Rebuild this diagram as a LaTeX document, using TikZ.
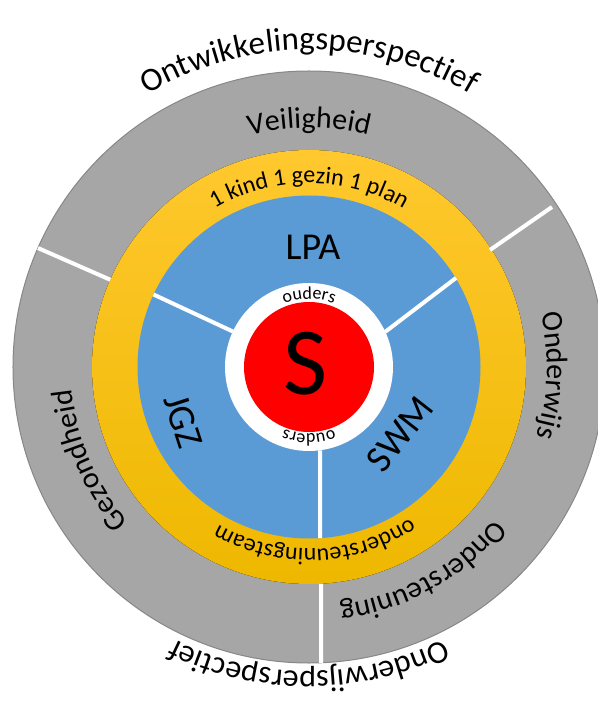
\documentclass[tikz,border=0pt]{standalone}
\usepackage{fontspec}
\setmainfont{Carlito}
\usepackage{tikz}
\usetikzlibrary{decorations.text}
\definecolor{ringgray}{RGB}{166,166,166}
\definecolor{ringedge}{RGB}{135,135,135}
\definecolor{yeltop}{RGB}{255,200,46}
\definecolor{yelbot}{RGB}{238,184,0}
\definecolor{lpablue}{RGB}{91,155,213}

\begin{document}
\begin{tikzpicture}[x=1pt, y=1pt,
  ringtext/.style args={#1/#2}{decorate, decoration={text along path, text align=center, text={|\fontsize{#1}{#1}\selectfont|#2}}},
  sector/.style={font=\fontsize{38}{38}\selectfont}]
\useasboundingbox (-309,-342) rectangle (288,367);
\filldraw[fill=ringgray, draw=ringedge, line width=1] (0,0) circle[radius=296];
\fill[top color=yeltop, bottom color=yelbot] (0,0) circle[radius=217];
\fill[lpablue] (0,0) circle[radius=171.5];
\fill[white] (0,0) circle[radius=84];
\fill[red] (0,0) circle[radius=65];
\draw[white, line width=4] (156.3:217) -- (156.3:296) (181,117) -- (243,160) (12,-216.7) -- (12,-295.8);
\draw[white, line width=4] (155:84) -- (155:171.5) (76,35) -- (147,89) (11,-83.3) -- (11,-171.1);
\foreach \rad/\sa/\ea/\fs/\txt in {317/150/30/33/Ontwikkelingsperspectief, 304/-30/-150/32/Onderwijsperspectief,
  239/130/50/30/Veiligheid, 238/40/-44/30/Onderwijs, 240/-20/-102/30/Ondersteuning, 238/245/161/30/Gezondheid,
  184/150/30/24/1 kind 1 gezin 1 plan, 182/-28/-148/24/ondersteuningsteam, 68/170/10/18/ouders, 67/-10/-170/18/ouders}{
\path[ringtext/.expanded={\fs/\txt}] (\sa:\rad) arc[start angle=\sa, end angle=\ea, radius=\rad];
}
\node (lpa) at (4,120) [sector] {LPA};
\node (jgz) at (-126,-54) [sector, rotate=-72] {JGZ};
\node (swm) at (91,-67) [sector, rotate=52] {SWM};
\node (s) at (-3,3) [font=\fontsize{96}{96}\selectfont] {S};
\end{tikzpicture}
\end{document}
